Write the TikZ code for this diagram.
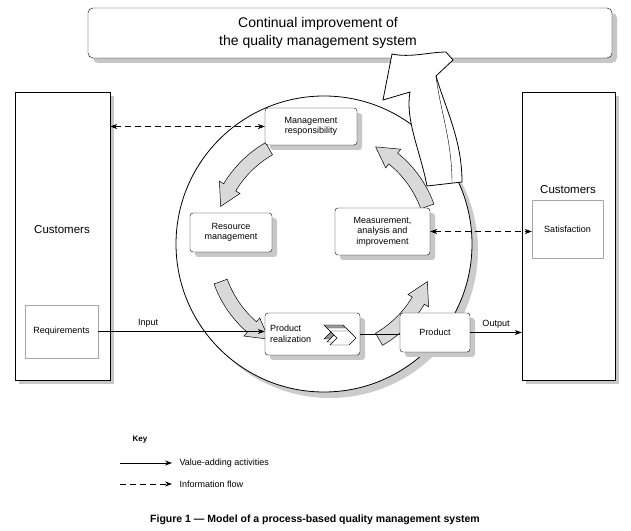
\documentclass[tikz,border=0pt]{standalone}
\usepackage{fontspec}
\setmainfont{Liberation Sans}
\usetikzlibrary{shadows,arrows.meta}
\begin{document}
\begin{tikzpicture}[x=1pt,y=1pt,
  box/.style={draw,rounded corners=3pt,fill=white,align=center,font=\fontsize{9}{10.5}\selectfont,
     drop shadow={shadow xshift=5pt,shadow yshift=-5pt,fill=black!22,opacity=1}},
  cust/.style={draw,fill=white,minimum width=95pt,minimum height=288pt,
     drop shadow={shadow xshift=4pt,shadow yshift=-4pt,fill=black!22,opacity=1}},
  sub/.style={draw=black!35,fill=white,align=center,font=\fontsize{9}{10.5}\selectfont},
  va/.style={-{Stealth[length=7pt,width=5pt]},semithick},
  dsh/.style={dash pattern=on 6pt off 4pt},
  inf/.style={{Stealth[length=7pt,width=5pt]}-{Stealth[length=7pt,width=5pt]},dsh,semithick},
  garrow/.style={draw,fill=black!15,line width=0.5pt},
  lbl/.style={font=\fontsize{9}{10.5}\selectfont}]
\useasboundingbox (0,0) rectangle (631,530);
% top box
\node[box,minimum width=524pt,minimum height=50pt,rounded corners=5pt] (top) at (350,497) {};
\node[font=\fontsize{14}{18}\selectfont,align=center] (toptxt) at (318,497) {Continual improvement of\\the quality management system};
% customers
\node[cust] (lc) at (62.5,294) {};
\node[font=\fontsize{11.5}{13}\selectfont] (lct) at (62,300) {Customers};
\node[sub,minimum width=73pt,minimum height=53pt] (req) at (61.5,198.5) {Requirements};
\node[cust,minimum width=93pt] (rc) at (568.5,294) {};
\node[font=\fontsize{11.5}{13}\selectfont] (rct) at (568,340) {Customers};
\node[sub,minimum width=71pt,minimum height=58pt] (sat) at (567.5,301) {Satisfaction};
% circle
\fill[black!20] (330,280) circle (148);
\draw[thick,fill=white] (324,286) circle (148);
% process arrows
\begin{scope}[shift={(324,286)}]
\foreach \a/\b in {120/160,200/240,300/340,20/62}{
  \pgfmathsetmacro\m{\b-11}
  \draw[garrow] (\a:103) arc[start angle=\a,end angle=\m,radius=103] -- (\m:98) -- (\b:110) -- (\m:122) -- (\m:117) arc[start angle=\m,end angle=\a,radius=117] -- cycle;
}
\end{scope}
% boxes
\node[box,minimum width=92pt,minimum height=37pt] (mr) at (311,403.5) {Management\\responsibility};
\node[box,minimum width=82pt,minimum height=39pt] (rm) at (231,297.5) {Resource\\management};
\node[box,minimum width=95pt,minimum height=47pt] (mai) at (382.5,298.5) {Measurement,\\analysis and\\improvement};
\node[box,minimum width=95pt,minimum height=42pt,text width=85pt,align=left] (pr) at (312.5,196) {Product\\realization};
\node[box,minimum width=70pt,minimum height=39pt] (prod) at (435,197.5) {Product};
% chevrons
\foreach \d/\c in {0/black!40,3/white,6/white}{
  \draw[fill=\c] (324+\d,205-\d) -- (343+\d,205-\d) -- (350+\d,198-\d) -- (343+\d,191-\d) -- (324+\d,191-\d) -- (331+\d,198-\d) -- cycle;
}
% big arrow
\draw[thick,fill=white] (427,344) .. controls (420,380) and (405,410) .. (410,438) -- (383,430) -- (392,476) .. controls (410,472) and (430,478) .. (446,478) -- (453,470) -- (436,454) .. controls (446,420) and (462,390) .. (462,348) -- cycle;
\draw (436,454) .. controls (440,420) and (452,390) .. (452,347);
% connectors
\draw[va] (req.east) -- (req.east -| pr.west) node[lbl,pos=0.3,above] {Input};
\draw[semithick] (pr.east) -- (pr.east -| prod.west);
\draw[va] (prod.east) -- (prod.east -| rc.west) node[lbl,pos=0.5,above] {Output};
\draw[inf] (lc.east |- mr.west) -- (mr.west);
\draw[inf] (mai.east) -- (mai.east -| sat.west);
% key
\node[font=\bfseries\fontsize{8}{10}\selectfont] (key) at (140,90) {Key};
\coordinate (k1) at (120,67); \coordinate (k2) at (172,67);
\coordinate (k3) at (120,46); \coordinate (k4) at (172,46);
\draw[-{Stealth[length=7pt,width=5pt]},semithick] (k1) -- (k2);
\draw[-{Stealth[length=7pt,width=5pt]},semithick,dsh] (k3) -- (k4);
\node[lbl,anchor=west] (kv) at (176,67) {Value-adding activities};
\node[lbl,anchor=west] (ki) at (176,46) {Information flow};
\node[font=\bfseries\fontsize{10.5}{12}\selectfont] (cap) at (315,10) {Figure 1 — Model of a process-based quality management system};
\end{tikzpicture}
\end{document}
